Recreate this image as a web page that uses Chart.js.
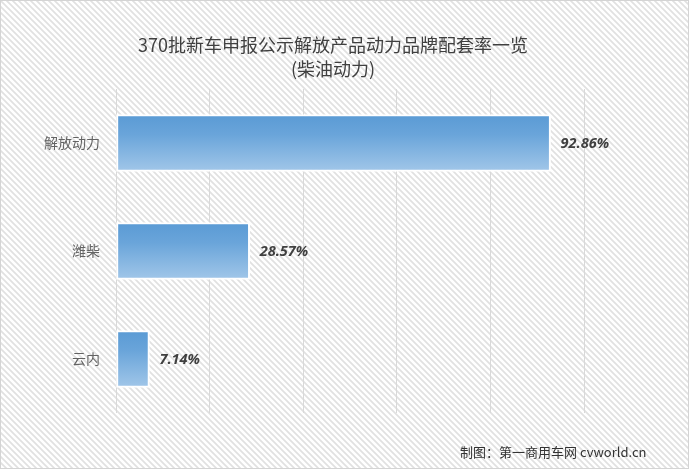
<!DOCTYPE html>
<html>
<head>
<meta charset="utf-8">
<script src="https://cdn.jsdelivr.net/npm/chart.js@4/dist/chart.umd.min.js"></script>
<style>
html,body{margin:0;padding:0;background:#fff;}
#wrap{width:689px;height:469px;position:relative;}
</style>
</head>
<body>
<div id="wrap"><canvas id="c" width="689" height="469"></canvas></div>
<script>
const titleLines = ['370批新车申报公示解放产品动力品牌配套率一览', '(柴油动力)'];
const categories = ['解放动力', '潍柴', '云内'];
const shareValues = [92.86, 28.57, 7.14];
const valueLabels = ['92.86%', '28.57%', '7.14%'];
const axisMin = 0, axisMax = 100, axisStep = 20;
const footerText = '制图：第一商用车网 cvworld.cn';

const FONT = '"Noto Sans CJK SC", "Open Sans", sans-serif';

function makePattern(ctx) {
  const p = document.createElement('canvas');
  p.width = 6; p.height = 6;
  const g = p.getContext('2d');
  g.fillStyle = '#ffffff';
  g.fillRect(0, 0, 6, 6);
  g.strokeStyle = '#e1e1e1';
  g.lineWidth = 1.7;
  g.beginPath();
  g.moveTo(-1, -1); g.lineTo(7, 7);
  g.moveTo(-7, -1); g.lineTo(1, 7);
  g.moveTo(5, -1); g.lineTo(13, 7);
  g.stroke();
  return ctx.createPattern(p, 'repeat');
}

const bgPlugin = {
  id: 'bg',
  beforeDraw(chart) {
    const ctx = chart.ctx;
    ctx.save();
    ctx.fillStyle = makePattern(ctx);
    ctx.fillRect(0, 0, chart.width, chart.height);
    ctx.strokeStyle = '#d4d4d4';
    ctx.lineWidth = 1;
    ctx.strokeRect(0.5, 0.5, chart.width - 1, chart.height - 1);
    ctx.restore();
  },
  afterDraw(chart) {
    const ctx = chart.ctx;
    ctx.save();
    // title
    ctx.fillStyle = '#404040';
    ctx.font = '18px ' + FONT;
    ctx.textAlign = 'center';
    ctx.textBaseline = 'middle';
    ctx.fillText(titleLines[0], 333, 45);
    ctx.fillText(titleLines[1], 333, 69);
    // data labels
    const meta = chart.getDatasetMeta(0);
    ctx.font = 'italic bold 14.5px "Open Sans", sans-serif';
    ctx.fillStyle = '#404040';
    ctx.textAlign = 'left';
    meta.data.forEach((bar, i) => {
      ctx.fillText(valueLabels[i], bar.x + 10, bar.y + 1);
    });
    // footer
    ctx.font = '13px ' + FONT;
    ctx.fillStyle = '#333333';
    ctx.textAlign = 'left';
    ctx.fillText(footerText, 460, 452);
    ctx.restore();
  }
};

function barGradient(context) {
  const chart = context.chart;
  const ys = chart.scales && chart.scales.y;
  if (!chart.chartArea || !ys || context.dataIndex === undefined) return '#5b9bd5';
  const cy = ys.getPixelForValue(context.dataIndex);
  const g = chart.ctx.createLinearGradient(0, cy - 27, 0, cy + 27);
  g.addColorStop(0, '#5b9bd5');
  g.addColorStop(0.35, '#6aa5da');
  g.addColorStop(1, '#9fc5e8');
  return g;
}

new Chart(document.getElementById('c'), {
  type: 'bar',
  data: {
    labels: categories,
    datasets: [{
      data: shareValues,
      backgroundColor: barGradient,
      borderColor: '#ffffff',
      borderWidth: 2,
      borderSkipped: false,
      barThickness: 57
    }]
  },
  options: {
    indexAxis: 'y',
    responsive: false,
    animation: false,
    layout: { padding: { left: 0, right: 105, top: 89, bottom: 56 } },
    plugins: { legend: { display: false }, title: { display: false }, tooltip: { enabled: false } },
    scales: {
      x: {
        min: axisMin, max: axisMax,
        ticks: { display: false, stepSize: axisStep },
        grid: { color: '#d9d9d9', lineWidth: 1, drawTicks: false },
        border: { display: false }
      },
      y: {
        ticks: { color: '#636363', font: { family: FONT, size: 14 }, padding: 16 },
        grid: { display: false, drawTicks: false },
        border: { display: false },
        afterFit(scale) { scale.width = 116; }
      }
    }
  },
  plugins: [bgPlugin]
});
</script>
</body>
</html>
